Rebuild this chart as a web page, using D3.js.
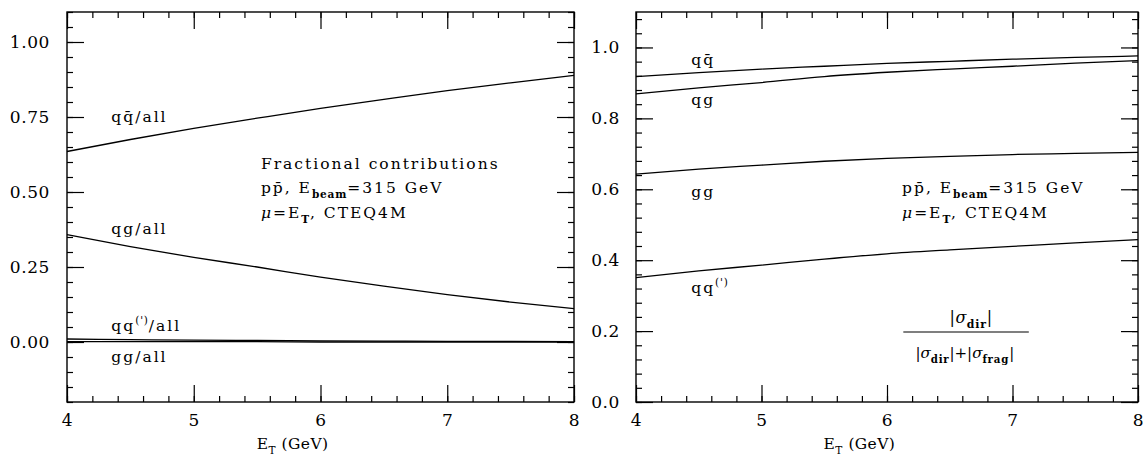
<!DOCTYPE html>
<html><head><meta charset="utf-8">
<script src="https://cdn.jsdelivr.net/npm/d3@7"></script>
<style>
body{margin:0;background:#fff}
svg{display:block}
text{font-family:"DejaVu Serif",serif;fill:#000}
</style></head><body>
<svg id="chart" width="1143" height="456"></svg>
<script>
// Transverse energy grid (GeV)
const et = [4, 4.5, 5, 5.5, 6, 6.5, 7, 7.5, 8];

// Left panel: fractional contributions of each channel
const qqbarAll = [0.635, 0.675, 0.712, 0.746, 0.779, 0.809, 0.838, 0.864, 0.889];
const qgAll    = [0.358, 0.318, 0.282, 0.250, 0.216, 0.186, 0.158, 0.133, 0.111];
const qqpAll   = [0.010, 0.008, 0.006, 0.005, 0.004, 0.003, 0.002, 0.002, 0.001];
const ggAll    = [0.001, 0.001, 0.001, 0.001, 0.000, 0.000, 0.000, 0.000, 0.000];

// Right panel: direct / (direct + fragmentation) per channel
const qqbarDir = [0.918, 0.929, 0.939, 0.947, 0.955, 0.961, 0.967, 0.972, 0.976];
const qgDir    = [0.869, 0.886, 0.901, 0.918, 0.930, 0.939, 0.947, 0.956, 0.963];
const ggDir    = [0.643, 0.657, 0.668, 0.679, 0.687, 0.693, 0.698, 0.701, 0.704];
const qqpDir   = [0.351, 0.370, 0.386, 0.403, 0.418, 0.429, 0.439, 0.449, 0.458];

// Axis ticks
const xMajor = [4, 5, 6, 7, 8];
const leftYMajor = [0, 0.25, 0.5, 0.75, 1.0];
const leftYLabels = ["0.00", "0.25", "0.50", "0.75", "1.00"];
const rightYMajor = [0, 0.2, 0.4, 0.6, 0.8, 1.0];
const rightYLabels = ["0.0", "0.2", "0.4", "0.6", "0.8", "1.0"];

const svg = d3.select("#chart");

function range(a, b, step) {
  const out = [];
  const n = Math.floor((b - a) / step + 1e-6);
  for (let i = 0; i <= n; i++) out.push(+(a + i * step).toFixed(4));
  return out;
}

// Text with sub/superscript parts
function richText(g, x, y, parts, opt = {}) {
  const size = opt.size || 15.5;
  const t = g.append("text")
    .attr("x", x).attr("y", y)
    .attr("font-size", size)
    .attr("letter-spacing", opt.ls == null ? 2 : opt.ls)
    .attr("text-anchor", opt.anchor || "start");
  let shift = 0;
  parts.forEach(p => {
    const s = t.append("tspan").text(p.t);
    let target = 0;
    if (p.sub) target = size * 0.3;
    if (p.sup) target = -size * 0.42;
    if (target !== shift) { s.attr("dy", target - shift); shift = target; }
    if (p.sub || p.sup) s.attr("font-size", size * 0.68).attr("letter-spacing", 0.8);
    if (p.bold) s.attr("font-weight", "bold");
    if (p.it) s.attr("font-style", "italic");
  });
  return t;
}

function panel(cfg) {
  const x = d3.scaleLinear().domain([4, 8]).range([cfg.x0, cfg.x1]);
  const y = d3.scaleLinear().domain(cfg.yDomain).range([402, 12]);
  const g = svg.append("g");

  const xMinor = range(4, 8, 0.2);
  const yMinor = range(cfg.yDomain[0], cfg.yDomain[1], cfg.yMinorStep);

  const styleAxis = sel => {
    sel.select(".domain").remove();
    sel.selectAll("line").attr("stroke", "#000").attr("stroke-width", 1.2);
    sel.selectAll("text").attr("font-family", "DejaVu Serif").attr("font-size", 17)
      .attr("letter-spacing", 0.6).attr("fill", "#000");
  };

  // bottom
  g.append("g").attr("transform", "translate(0,402)")
    .call(d3.axisBottom(x).tickValues(xMinor).tickSize(-6).tickFormat("")).call(styleAxis);
  g.append("g").attr("transform", "translate(0,402)")
    .call(d3.axisBottom(x).tickValues(xMajor).tickSize(-17).tickPadding(12).tickFormat(d3.format("d")))
    .call(styleAxis);
  // top
  g.append("g").attr("transform", "translate(0,12)")
    .call(d3.axisTop(x).tickValues(xMinor).tickSize(-6).tickFormat("")).call(styleAxis);
  g.append("g").attr("transform", "translate(0,12)")
    .call(d3.axisTop(x).tickValues(xMajor).tickSize(-17).tickFormat("")).call(styleAxis);
  // left
  g.append("g").attr("transform", `translate(${cfg.x0},0)`)
    .call(d3.axisLeft(y).tickValues(yMinor).tickSize(-6).tickFormat("")).call(styleAxis);
  g.append("g").attr("transform", `translate(${cfg.x0},0)`)
    .call(d3.axisLeft(y).tickValues(cfg.yMajor).tickSize(-17).tickPadding(cfg.yPad)
      .tickFormat((d, i) => cfg.yLabels[i])).call(styleAxis);
  // right
  g.append("g").attr("transform", `translate(${cfg.x1},0)`)
    .call(d3.axisRight(y).tickValues(yMinor).tickSize(-6).tickFormat("")).call(styleAxis);
  g.append("g").attr("transform", `translate(${cfg.x1},0)`)
    .call(d3.axisRight(y).tickValues(cfg.yMajor).tickSize(-17).tickFormat("")).call(styleAxis);

  // frame
  g.append("rect").attr("x", cfg.x0).attr("y", 12)
    .attr("width", cfg.x1 - cfg.x0).attr("height", 390)
    .attr("fill", "none").attr("stroke", "#000").attr("stroke-width", 1.4);

  // curves
  const line = d3.line().x((d, i) => x(et[i])).y(d => y(d)).curve(d3.curveMonotoneX);
  cfg.series.forEach(s => {
    g.append("path").attr("d", line(s)).attr("fill", "none")
      .attr("stroke", "#000").attr("stroke-width", 1.3);
  });

  // axis title
  richText(g, x(5.78), 449, [{t: "E"}, {t: "T", sub: true}, {t: " (GeV)"}],
    {anchor: "middle", size: 15.5, ls: 0.4});

  return {g, x, y};
}

// ---- left panel
const L = panel({
  x0: 67, x1: 574, yDomain: [-0.2, 1.1], yMinorStep: 0.05,
  yMajor: leftYMajor, yLabels: leftYLabels, yPad: 17,
  series: [qqbarAll, qgAll, qqpAll, ggAll]
});
richText(L.g, L.x(4.35), 122, [{t: "qq\u0304/all"}]);
richText(L.g, L.x(4.35), 234, [{t: "qg/all"}]);
richText(L.g, L.x(4.35), 331, [{t: "qq"}, {t: "(')", sup: true}, {t: "/all"}]);
richText(L.g, L.x(4.35), 362, [{t: "gg/all"}]);
richText(L.g, L.x(5.53), 169, [{t: "Fractional contributions"}]);
richText(L.g, L.x(5.53), 193, [{t: "pp\u0304, E"}, {t: "beam", sub: true, bold: true}, {t: "=315 GeV"}]);
richText(L.g, L.x(5.53), 218, [{t: "\u03bc", it: true}, {t: "=E"}, {t: "T", sub: true, bold: true}, {t: ", CTEQ4M"}]);

// ---- right panel
const R = panel({
  x0: 636, x1: 1138, yDomain: [0, 1.1], yMinorStep: 0.04,
  yMajor: rightYMajor, yLabels: rightYLabels, yPad: 16,
  series: [qqbarDir, qgDir, ggDir, qqpDir]
});
richText(R.g, R.x(4.44), 65, [{t: "qq\u0304"}]);
richText(R.g, R.x(4.44), 105, [{t: "qg"}]);
richText(R.g, R.x(4.44), 197, [{t: "gg"}]);
richText(R.g, R.x(4.44), 293, [{t: "qq"}, {t: "(')", sup: true}]);
richText(R.g, R.x(6.12), 193, [{t: "pp\u0304, E"}, {t: "beam", sub: true, bold: true}, {t: "=315 GeV"}]);
richText(R.g, R.x(6.12), 218, [{t: "\u03bc", it: true}, {t: "=E"}, {t: "T", sub: true, bold: true}, {t: ", CTEQ4M"}]);

// ratio definition
richText(R.g, R.x(6.67), 323, [{t: "|"}, {t: "\u03c3", it: true}, {t: "dir", sub: true, bold: true}, {t: "|"}],
  {anchor: "middle", size: 16, ls: 0.5});
R.g.append("line").attr("x1", R.x(6.13)).attr("x2", R.x(7.13)).attr("y1", 332).attr("y2", 332)
  .attr("stroke", "#000").attr("stroke-width", 1.2);
richText(R.g, R.x(6.62), 358, [{t: "|"}, {t: "\u03c3", it: true}, {t: "dir", sub: true, bold: true}, {t: "|+|"},
  {t: "\u03c3", it: true}, {t: "frag", sub: true, bold: true}, {t: "|"}],
  {anchor: "middle", size: 15, ls: 0});
</script>
</body></html>
